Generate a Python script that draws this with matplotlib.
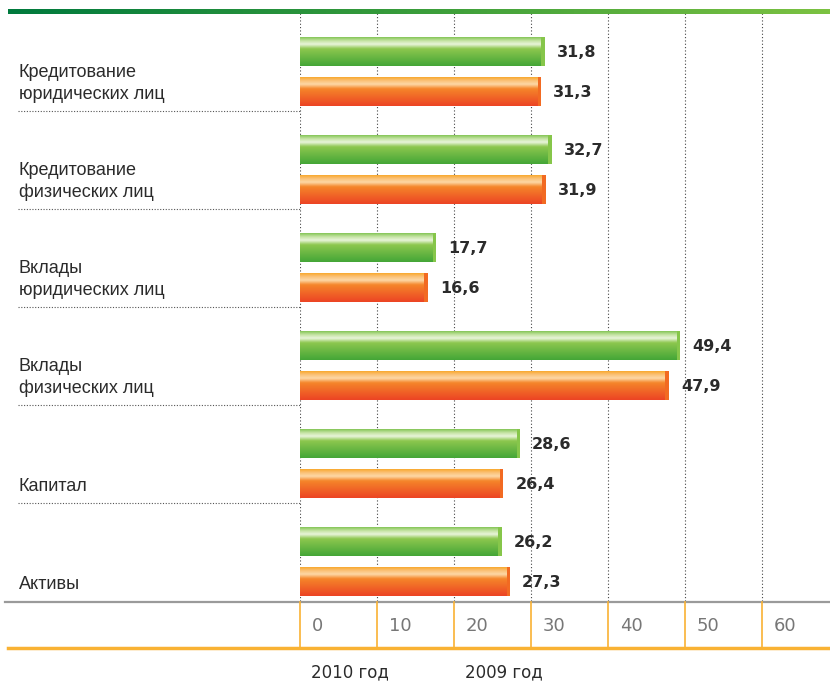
import numpy as np
import matplotlib
matplotlib.use("Agg")
import matplotlib.pyplot as plt
from matplotlib.colors import LinearSegmentedColormap

# ================== данные ==================
categories = [
    "Кредитование\nюридических лиц",
    "Кредитование\nфизических лиц",
    "Вклады\nюридических лиц",
    "Вклады\nфизических лиц",
    "Капитал",
    "Активы",
]
values_2010 = [31.8, 32.7, 17.7, 49.4, 28.6, 26.2]
values_2009 = [31.3, 31.9, 16.6, 47.9, 26.4, 27.3]
series_labels = ["2010 год", "2009 год"]
x_ticks = [0, 10, 20, 30, 40, 50, 60]
# ============================================

W, H = 830, 683
fig = plt.figure(figsize=(W / 100, H / 100), dpi=100)

# пиксельные координаты области графика
X0, X1 = 300, 830
Y0, Y1 = 13, 601
PX_PER_UNIT = 7.7
ax = fig.add_axes([X0 / W, 1 - Y1 / H, (X1 - X0) / W, (Y1 - Y0) / H])
ax.set_axis_off()

n = len(categories)
pos = np.arange(n)
bar_h = 0.30
y_green = pos + 0.39
y_orange = pos + 0.80

green_cmap = LinearSegmentedColormap.from_list(
    "g", [(0, "#74be44"), (0.15, "#c6e4a4"), (0.27, "#eaf5dc"), (0.42, "#8dc74e"), (1, "#44a637")])
orange_cmap = LinearSegmentedColormap.from_list(
    "o", [(0, "#f8a21c"), (0.15, "#fbc27a"), (0.27, "#fdd9a8"), (0.42, "#f5862a"), (1, "#ec4424")])

grad = np.linspace(0, 1, 64).reshape(-1, 1)
cap = 4 / PX_PER_UNIT


def draw_bars(yvals, vals, cmap, cap_color):
    bars = ax.barh(yvals, vals, height=bar_h, color=cap_color, zorder=3)
    for b in bars:
        x, y, w, h = b.get_x(), b.get_y(), b.get_width(), b.get_height()
        im = ax.imshow(grad, cmap=cmap, aspect="auto", origin="upper",
                       extent=(x, x + w - cap, y + h, y), zorder=4, interpolation="bicubic")
        im.set_clip_path(b)
    for yv, v in zip(yvals, vals):
        ax.annotate(f"{v:.1f}".replace(".", ","), xy=(v, yv), xytext=(12, -1),
                    textcoords="offset pixels", va="center", ha="left",
                    fontsize=11.5, fontweight="bold", color="#2b2b2b",
                    family="DejaVu Sans", zorder=5)


draw_bars(y_green, values_2010, green_cmap, "#86c64a")
draw_bars(y_orange, values_2009, orange_cmap, "#f26a22")

# вертикальная пунктирная сетка
for t in x_ticks:
    ax.axvline(t, color="#444444", lw=0.8, ls=(0, (1, 2)), zorder=1)

ax.set_xlim(0, (X1 - X0) / PX_PER_UNIT)
ax.set_ylim(n, 0)

# подписи категорий и пунктирные разделители
for i, cat in enumerate(categories):
    fig.text(19 / W, 1 - (Y0 + (i + 0.92) * (Y1 - Y0) / n) / H, cat,
             ha="left", va="bottom", fontsize=13, color="#2b2b2b",
             family="Liberation Sans", linespacing=1.38)
    if i < n - 1:
        yy = 1 - (Y0 + (i + 1) * (Y1 - Y0) / n) / H
        fig.add_artist(plt.Line2D([18 / W, X0 / W], [yy, yy], color="#555555",
                                  lw=0.8, ls=(0, (1, 1.5))))

# зелёная линия сверху
gcm = LinearSegmentedColormap.from_list("top", ["#007a3e", "#3a9d3a", "#7cc242"])
top = fig.add_axes([8 / W, 1 - 14 / H, 1 - 8 / W, 5 / H])
top.imshow(np.linspace(0, 1, 256).reshape(1, -1), cmap=gcm, aspect="auto")
top.set_axis_off()

# серая линия под графиком
fig.add_artist(plt.Line2D([5 / W, 1], [1 - 602 / H] * 2, color="#9a9a9a", lw=1.6))

# шкала
for t in x_ticks:
    xp = (X0 + t * PX_PER_UNIT) / W
    fig.add_artist(plt.Line2D([xp, xp], [1 - 602 / H, 1 - 648 / H], color="#f9b233", lw=1.2))
    fig.text(xp + 12 / W, 1 - 626 / H, str(t), ha="left", va="center",
             fontsize=13, color="#777777", family="DejaVu Sans")

fig.add_artist(plt.Line2D([8 / W, 1], [1 - 648 / H] * 2, color="#f9b233", lw=2.5))

# легенда (только текст)
for lbl, xp in zip(series_labels, [311, 465]):
    fig.text(xp / W, 1 - 672 / H, lbl, ha="left", va="center",
             fontsize=12, color="#2b2b2b", family="DejaVu Sans")

fig.savefig("out.png", dpi=100)
